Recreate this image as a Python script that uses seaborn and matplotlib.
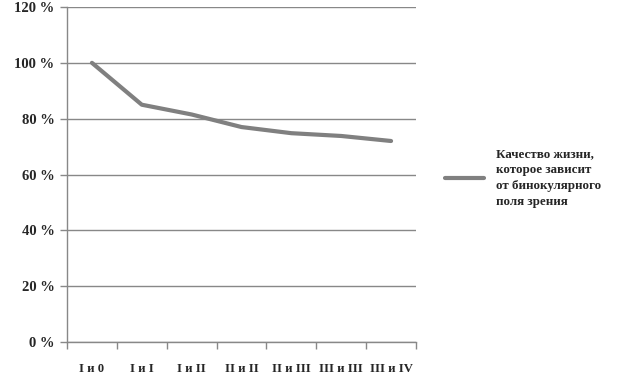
import matplotlib
matplotlib.use("Agg")
import matplotlib.pyplot as plt
import seaborn as sns
import pandas as pd
import numpy as np

categories = ["I и 0", "I и I", "I и II", "II и II", "II и III", "III и III", "III и IV"]
values = [100, 85, 81.5, 77, 74.8, 73.8, 72]
series_name = "Качество жизни,\nкоторое зависит\nот бинокулярного\nполя зрения"

sns.set_theme(style="white")
plt.rcParams['font.family'] = ['Liberation Serif', 'DejaVu Serif']
plt.rcParams['font.weight'] = 'bold'

df = pd.DataFrame({"cat": categories, "val": values})
df["pos"] = np.arange(len(categories))

fig = plt.figure(figsize=(6.18, 3.78), dpi=100)
ax = fig.add_axes([67 / 618, 1 - 342 / 378, (416 - 67) / 618, (342 - 7) / 378])

sns.lineplot(data=df, x="pos", y="val", ax=ax, color="#808080", linewidth=3,
             label=series_name, sort=False)

ax.set_xlim(-0.5, len(categories) - 0.5)
ax.set_ylim(0, 120)
ax.set_yticks(range(0, 121, 20))
ax.set_yticklabels([f"{v} %" for v in range(0, 121, 20)], fontsize=10.5, fontweight='bold')
ax.set_xticks(df["pos"])
ax.set_xticklabels(categories, fontsize=9.2, fontweight='bold')
ax.set_xticks(np.arange(-0.5, len(categories)), minor=True)
ax.tick_params(axis='x', which='major', length=0, pad=15)
ax.tick_params(axis='x', which='minor', length=5, color="#888888", width=1, direction='out', bottom=True)
ax.tick_params(axis='y', length=5, color="#888888", width=1, direction='out', left=True, pad=4)
ax.set_xlabel("")
ax.set_ylabel("")
ax.grid(axis='y', color="#888888", linewidth=1)
ax.set_axisbelow(True)
for s in ["top", "right"]:
    ax.spines[s].set_visible(False)
for s in ["left", "bottom"]:
    ax.spines[s].set_color("#888888")
    ax.spines[s].set_linewidth(1)

leg = ax.legend(loc="upper left", bbox_to_anchor=(440 / 618, 1 - 143 / 378),
                bbox_transform=fig.transFigure, frameon=False, fontsize=9.4,
                handlelength=3.0, handletextpad=0.9, borderaxespad=0)
for t in leg.get_texts():
    t.set_fontweight('bold')
    t.set_linespacing(1.45)

fig.savefig("out.png", dpi=100)
